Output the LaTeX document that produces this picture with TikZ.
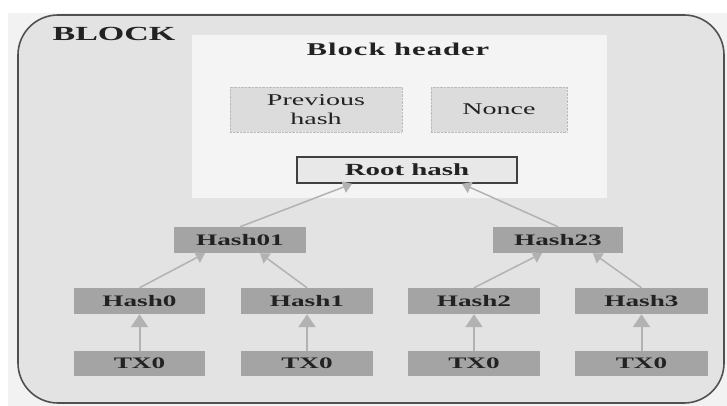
\documentclass[tikz,border=0pt]{standalone}
\usepackage{fontspec}
\usetikzlibrary{arrows.meta}
\newfontfamily\wf[FakeStretch=1.7]{Liberation Serif}
\definecolor{outerfill}{HTML}{E3E3E3}
\definecolor{outerline}{HTML}{505050}
\definecolor{headfill}{HTML}{F4F4F4}
\definecolor{fieldfill}{HTML}{DCDCDC}
\definecolor{hashfill}{HTML}{A4A4A4}
\definecolor{arrowgray}{HTML}{B2B2B2}
\definecolor{ink}{HTML}{222222}
\newcommand{\spc}[1]{\kern#1pt\relax}
\tikzset{
  hashbox/.style={fill=hashfill, draw=none, inner sep=0pt, text=ink,
    minimum height=26pt, font=\wf\fontsize{16}{18}\selectfont\bfseries},
  fieldbox/.style={fill=fieldfill, draw=fieldfill!85!black, densely dotted, line width=0.4pt,
    inner sep=0pt, text=ink, align=center, font=\wf\fontsize{16.5}{19}\selectfont},
  rootbox/.style={fill=headfill!95!black, draw=outerline!80!black, line width=1.6pt, inner sep=0pt,
    text=ink, font=\wf\fontsize{17}{19}\selectfont\bfseries},
  link/.style={draw=arrowgray, line width=1.5pt, -{Triangle[width=12pt,length=9pt]}},
  uplink/.style={draw=arrowgray, line width=2pt, -{Triangle[width=17pt,length=13pt]}}
}
\begin{document}
\begin{tikzpicture}[x=1pt,y=-1pt]
  \useasboundingbox (0,0) rectangle (727,406);
  \fill[white] (0,0) rectangle (727,406);
  \fill[black!5] (8,13) rectangle (727,406);
  % block frame
  \draw[fill=outerfill, draw=outerline, line width=1.6pt, rounded corners=40pt]
    (18,15) rectangle (724,403);
  \node[font=\wf\fontsize{20}{22}\selectfont\bfseries, text=ink] (blk) at (114,34) {BLOCK};
  % block header
  \fill[headfill] (192,35) rectangle (607,198);
  \node[font=\wf\fontsize{18}{20}\selectfont\bfseries, text=ink] (hdr) at (398,49)
    {B\spc1l\spc1o\spc1c\spc1k\spc1\ h\spc1e\spc1a\spc1d\spc1e\spc1r};
  \node[fieldbox, minimum width=172pt, minimum height=45pt] (prev) at (316,109.5) {Previous\\hash};
  \node[fieldbox, minimum width=136pt, minimum height=45pt] (nonce) at (499,109.5) {Nonce};
  \node[rootbox, minimum width=220pt, minimum height=26pt] (root) at (407,170) {Root hash};
  % merkle tree
  \node[hashbox, minimum width=132pt] (h01) at (240,240) {Hash01};
  \node[hashbox, minimum width=130pt] (h23) at (558,240) {Hash23};
  \node[hashbox, minimum width=131pt] (h0) at (139.5,301) {Hash0};
  \node[hashbox, minimum width=132pt] (h1) at (307,301) {Hash1};
  \node[hashbox, minimum width=132pt] (h2) at (474,301) {Hash2};
  \node[hashbox, minimum width=133pt] (h3) at (641.5,301) {Hash3};
  \node[hashbox, minimum width=131pt, minimum height=25pt] (t0) at (139.5,363.5) {TX0};
  \node[hashbox, minimum width=132pt, minimum height=25pt] (t1) at (307,363.5) {TX0};
  \node[hashbox, minimum width=132pt, minimum height=25pt] (t2) at (474,363.5) {TX0};
  \node[hashbox, minimum width=133pt, minimum height=25pt] (t3) at (641.5,363.5) {TX0};
  % links
  \draw[uplink] (t0.north) -- (h0.south);
  \draw[uplink] (t1.north) -- (h1.south);
  \draw[uplink] (t2.north) -- (h2.south);
  \draw[uplink] (t3.north) -- (h3.south);
  \draw[link] (h0.north) -- ([xshift=-35pt]h01.south);
  \draw[link] (h1.north) -- ([xshift=20pt]h01.south);
  \draw[link] (h2.north) -- ([xshift=-16pt]h23.south);
  \draw[link] (h3.north) -- ([xshift=35pt]h23.south);
  \draw[link] (h01.north) -- ([xshift=-55pt]root.south);
  \draw[link] (h23.north) -- ([xshift=55pt]root.south);
\end{tikzpicture}
\end{document}
